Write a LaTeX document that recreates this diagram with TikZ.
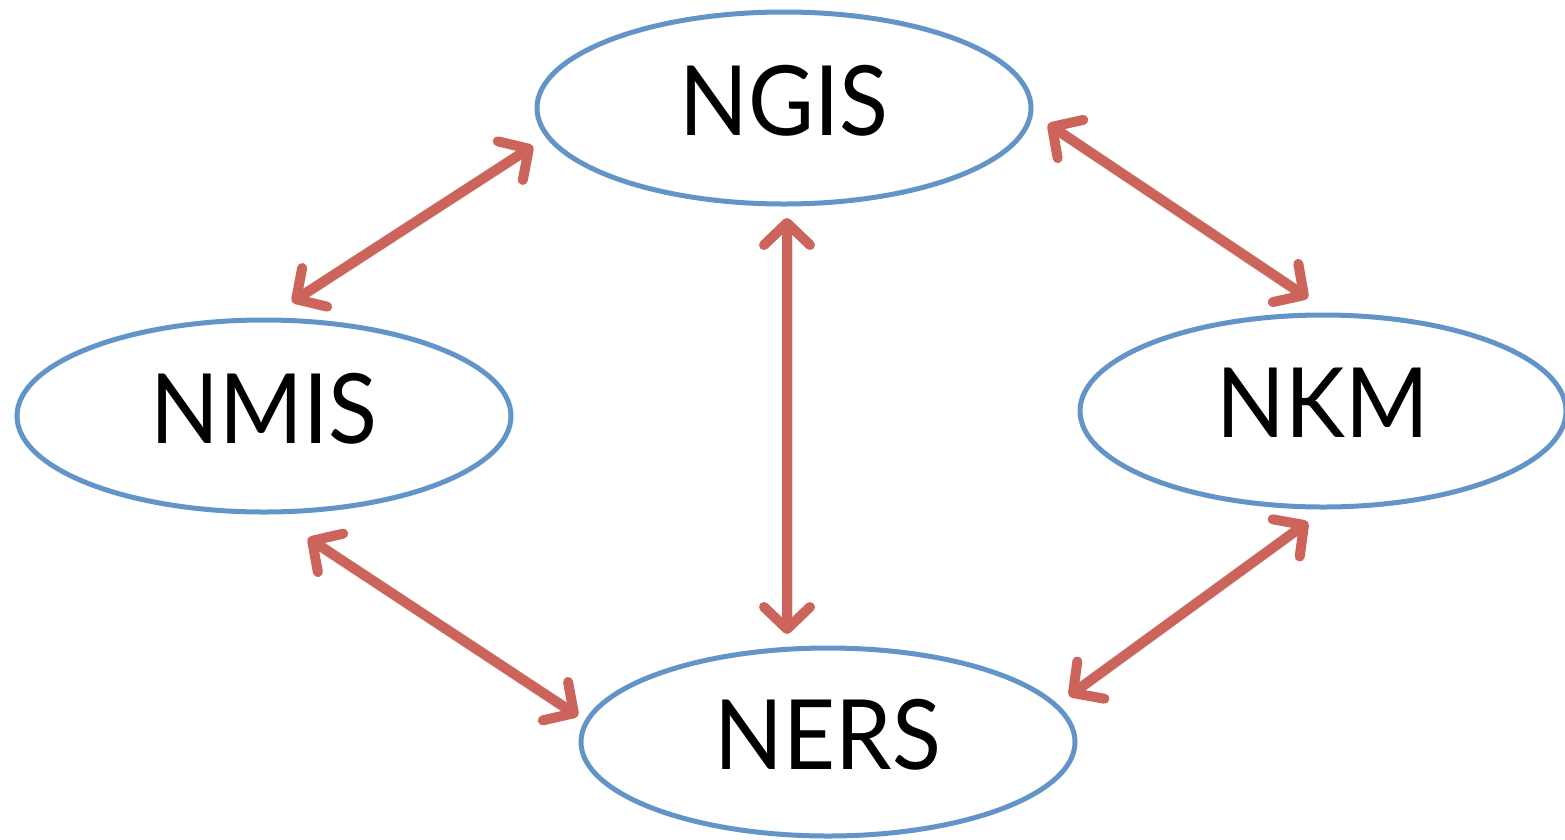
\documentclass[tikz,border=0pt]{standalone}
\usepackage{fontspec}
\setmainfont{Lato}[FakeStretch=0.93]
\usetikzlibrary{shapes.geometric,arrows.meta,calc}
\definecolor{ellblue}{RGB}{98,148,200}
\definecolor{arrred}{RGB}{205,100,92}
\tikzset{
  sysnode/.style={ellipse, draw=ellblue, line width=5pt, inner sep=0pt,
    minimum width=494pt, minimum height=192pt, text depth=16pt,
    font=\fontsize{97}{100}\selectfont},
  link/.style={draw=arrred, line width=10pt, line cap=round,
    {Straight Barb[length=22pt,width=46pt,line cap=round,line join=round]}-{Straight Barb[length=22pt,width=46pt,line cap=round,line join=round]}},
  linkshadow/.style={draw=black, opacity=0.12, line width=11pt, line cap=round, shorten <=12pt, shorten >=12pt}
}
\begin{document}
\begin{tikzpicture}[x=1pt,y=-1pt]
\useasboundingbox (0,0) rectangle (1565,839);
\node[sysnode] (ngis) at (784,108) {NGIS};
\node[sysnode] (nmis) at (264,416) {NMIS};
\node[sysnode, minimum width=486pt] (nkm) at (1323,411) {NKM};
\node[sysnode, minimum height=188pt] (ners) at (828,742) {NERS};
% shadows
\begin{scope}[shift={(2,4)}]
\path[linkshadow] ($(ngis.center)+(-251,38)$) -- ($(nmis.center)+(28,-114)$);
\path[linkshadow] ($(ngis.center)+(264,16)$) -- ($(nkm.center)+(-15,-113)$);
\path[linkshadow] ($(ngis.center)+(3,110)$) -- ($(ners.center)+(-41,-108)$);
\path[linkshadow] ($(nmis.center)+(44,122)$) -- ($(ners.center)+(-250,-26)$);
\path[linkshadow] ($(nkm.center)+(-15,111)$) -- ($(ners.center)+(241,-46)$);
\end{scope}
% connectors
\path[link] ($(ngis.center)+(-251,38)$) -- ($(nmis.center)+(28,-114)$);
\path[link] ($(ngis.center)+(264,16)$) -- ($(nkm.center)+(-15,-113)$);
\path[link] ($(ngis.center)+(3,110)$) -- ($(ners.center)+(-41,-108)$);
\path[link] ($(nmis.center)+(44,122)$) -- ($(ners.center)+(-250,-26)$);
\path[link] ($(nkm.center)+(-15,111)$) -- ($(ners.center)+(241,-46)$);
\end{tikzpicture}
\end{document}
